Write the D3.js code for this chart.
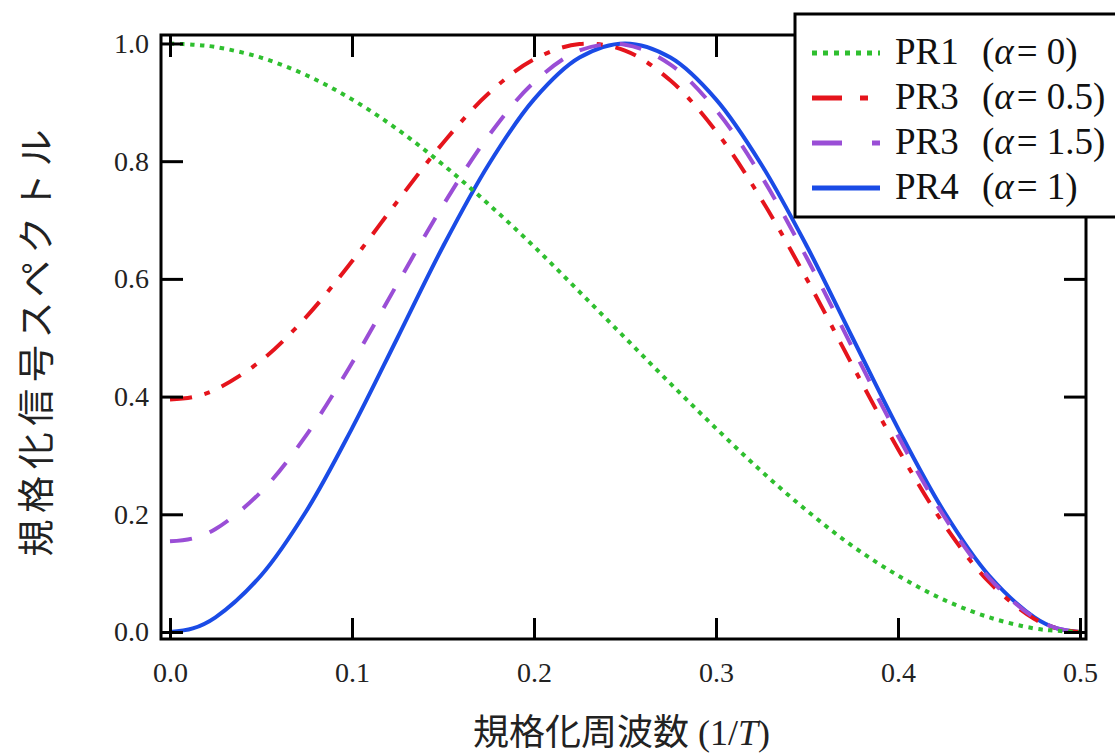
<!DOCTYPE html>
<html>
<head>
<meta charset="utf-8">
<script src="https://cdn.jsdelivr.net/npm/d3@7"></script>
<style>
  body { margin: 0; background: #fff; }
  svg { display: block; }
</style>
</head>
<body>
<div id="chart"></div>
<script>
// normalized frequency (1/T)
const freq = [0, 0.0125, 0.025, 0.05, 0.075, 0.1, 0.125, 0.15, 0.175, 0.2, 0.225, 0.25,
              0.275, 0.3, 0.325, 0.35, 0.375, 0.4, 0.425, 0.45, 0.475, 0.4875, 0.5];

// normalized signal spectrum
const pr1 = [1.000, 0.998, 0.994, 0.976, 0.946, 0.905, 0.854, 0.794, 0.727, 0.655, 0.578, 0.500,
             0.422, 0.346, 0.273, 0.206, 0.146, 0.096, 0.055, 0.025, 0.006, 0.002, 0.000];
const pr3a = [0.395, 0.399, 0.412, 0.461, 0.536, 0.630, 0.732, 0.831, 0.915, 0.973, 0.999, 0.988,
              0.937, 0.851, 0.735, 0.599, 0.453, 0.311, 0.184, 0.085, 0.022, 0.006, 0.000];
const pr3b = [0.154, 0.159, 0.175, 0.238, 0.335, 0.457, 0.592, 0.725, 0.843, 0.934, 0.988, 0.998,
              0.964, 0.887, 0.774, 0.635, 0.483, 0.333, 0.198, 0.092, 0.024, 0.006, 0.000];
const pr4 = [0.000, 0.006, 0.025, 0.096, 0.206, 0.346, 0.500, 0.655, 0.794, 0.905, 0.976, 1.000,
             0.976, 0.905, 0.794, 0.655, 0.500, 0.346, 0.206, 0.096, 0.025, 0.006, 0.000];

const seriesNames = ["PR1", "PR3", "PR3", "PR4"];
const alphaLabels = ["0", "0.5", "1.5", "1"];
const xTicks = [0, 0.1, 0.2, 0.3, 0.4, 0.5];
const yTicks = [0, 0.2, 0.4, 0.6, 0.8, 1.0];

const xTitle = "規格化周波数";
const yTitle = "規格化信号スペクトル";

// line styles (legend order)
const styles = [
  { color: "#2fbf2f", dash: "4.5,5.5", legendDash: "5,6" },
  { color: "#e5141c", dash: "22,13,6,13", legendDash: "30,18,8,40" },
  { color: "#9a4ed6", dash: "22,19", legendDash: "30,30,8,40" },
  { color: "#1a4be6", dash: null, legendDash: null }
];

const allSeries = [pr1, pr3a, pr3b, pr4];

const svgWidth = 1115;
const svgHeight = 756;
const margin = { top: 35, right: 29, bottom: 117, left: 161 };
const width = svgWidth - margin.left - margin.right;
const height = svgHeight - margin.top - margin.bottom;
const serif = "'Liberation Serif', 'Times New Roman', serif";
const cjk = "'Noto Sans CJK JP', 'Noto Sans CJK SC', sans-serif";

const svg = d3.select("#chart")
  .append("svg")
  .attr("width", svgWidth)
  .attr("height", svgHeight);

const g = svg.append("g")
  .attr("transform", "translate(" + margin.left + "," + margin.top + ")");

const xScale = d3.scaleLinear()
  .domain([-0.00495, 0.5033])
  .range([0, width]);

const yScale = d3.scaleLinear()
  .domain([-0.0119, 1.0144])
  .range([height, 0]);

// curves (blue first so the dashed ones sit on top)
const drawOrder = [3, 1, 2, 0];
drawOrder.forEach(i => {
  const line = d3.line()
    .x((d, k) => xScale(freq[k]))
    .y(d => yScale(d))
    .curve(d3.curveCatmullRom);
  g.append("path")
    .datum(allSeries[i])
    .attr("fill", "none")
    .attr("stroke", styles[i].color)
    .attr("stroke-width", 4)
    .attr("stroke-dasharray", styles[i].dash)
    .attr("d", line);
});

// axes, ticks pointing inward on all four sides
const fmt = d3.format(".1f");

const xAxis = g.append("g")
  .attr("transform", "translate(0," + height + ")")
  .call(d3.axisBottom(xScale).tickValues(xTicks).tickSize(-21).tickPadding(23).tickFormat(fmt));

const xTop = g.append("g")
  .call(d3.axisTop(xScale).tickValues(xTicks).tickSize(-22).tickFormat(""));

const yAxis = g.append("g")
  .call(d3.axisLeft(yScale).tickValues(yTicks).tickSize(-22).tickPadding(12).tickFormat(fmt));

const yRight = g.append("g")
  .attr("transform", "translate(" + width + ",0)")
  .call(d3.axisRight(yScale).tickValues(yTicks).tickSize(-22).tickFormat(""));

[xAxis, xTop, yAxis, yRight].forEach(a => {
  a.select(".domain").remove();
  a.selectAll(".tick line").attr("stroke", "#000").attr("stroke-width", 3);
  a.selectAll(".tick text")
    .attr("fill", "#222")
    .style("font-family", serif)
    .style("font-size", "28px");
});

// frame
g.append("rect")
  .attr("x", 0)
  .attr("y", 0)
  .attr("width", width)
  .attr("height", height)
  .attr("fill", "none")
  .attr("stroke", "#000")
  .attr("stroke-width", 3);

// x-axis title
const xt = svg.append("text")
  .attr("x", 473)
  .attr("y", 745)
  .attr("fill", "#222")
  .style("font-size", "36px");
xt.append("tspan").style("font-family", cjk).text(xTitle);
xt.append("tspan").style("font-family", serif).attr("dx", 9).text("(1/");
xt.append("tspan").style("font-family", serif).style("font-style", "italic").text("T");
xt.append("tspan").style("font-family", serif).text(")");

// y-axis title
svg.append("text")
  .attr("transform", "translate(34,343) rotate(-90)")
  .attr("text-anchor", "middle")
  .attr("dominant-baseline", "central")
  .attr("fill", "#222")
  .attr("textLength", 427)
  .attr("lengthAdjust", "spacing")
  .style("font-family", cjk)
  .style("font-size", "37px")
  .text(yTitle);

// legend
const legend = svg.append("g");
legend.append("rect")
  .attr("x", 795)
  .attr("y", 14)
  .attr("width", 340)
  .attr("height", 203)
  .attr("fill", "#fff")
  .attr("stroke", "#000")
  .attr("stroke-width", 3);

seriesNames.forEach((name, i) => {
  const ly = 53 + i * 45;
  legend.append("line")
    .attr("x1", 812)
    .attr("x2", 880)
    .attr("y1", ly)
    .attr("y2", ly)
    .attr("stroke", styles[i].color)
    .attr("stroke-width", 5)
    .attr("stroke-dasharray", styles[i].legendDash);

  const t = legend.append("text")
    .attr("y", ly + 11)
    .attr("fill", "#111")
    .style("font-family", serif)
    .style("font-size", "37px");
  t.append("tspan").attr("x", 895).text(name);
  t.append("tspan").attr("x", 982).text("(");
  t.append("tspan").style("font-style", "italic").text("α");
  t.append("tspan").attr("dx", 3).text("=");
  t.append("tspan").attr("dx", 9).text(alphaLabels[i] + ")");
});
</script>
</body>
</html>
